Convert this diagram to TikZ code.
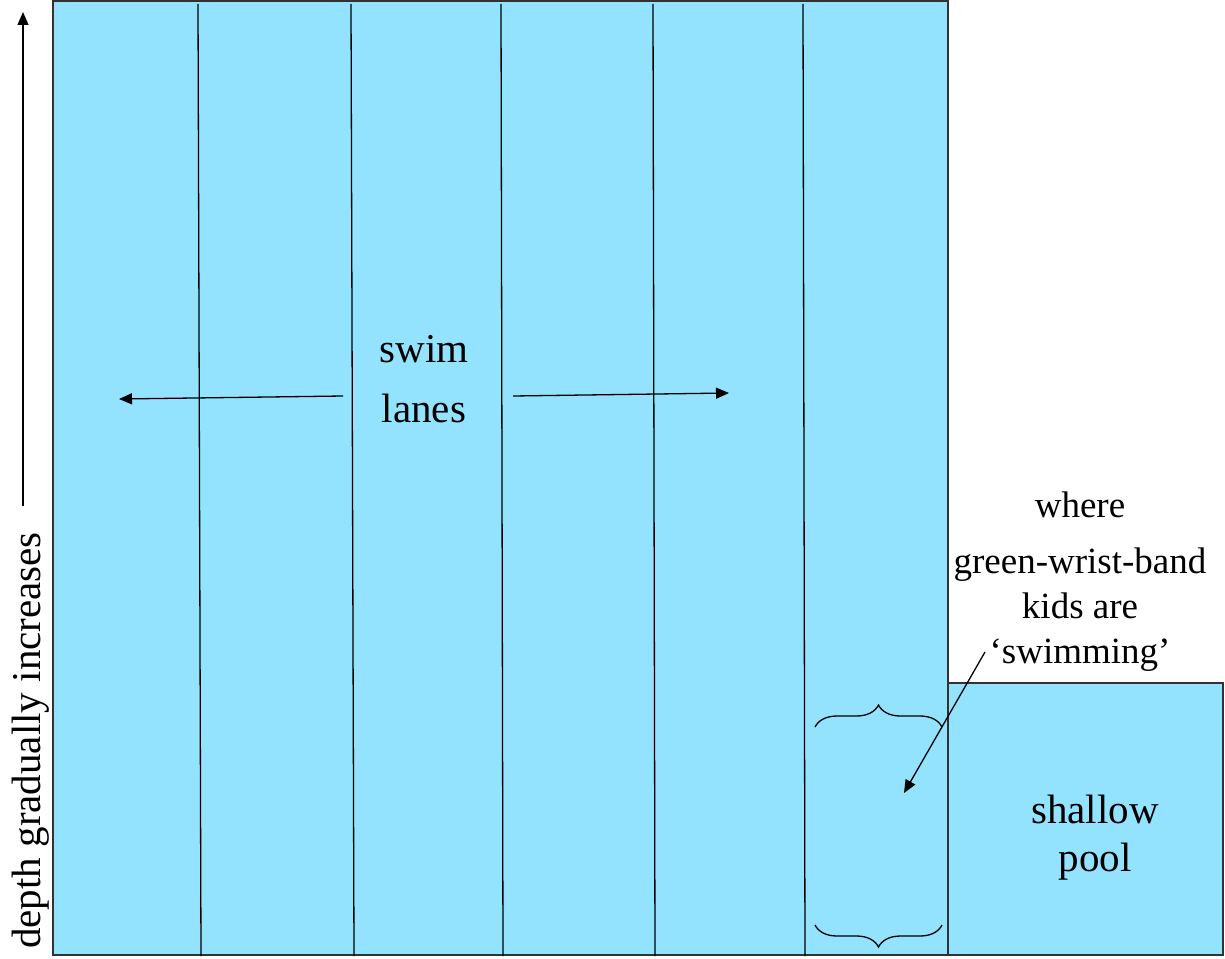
\documentclass[tikz,border=0pt]{standalone}
\usepackage{fontspec}
\setmainfont{Liberation Serif}
\usetikzlibrary{arrows.meta,decorations.pathreplacing}
\definecolor{poolblue}{RGB}{148,227,254}
\definecolor{rimgray}{RGB}{50,50,50}
\tikzset{
  pool/.style={draw=rimgray, line width=2pt, fill=poolblue},
  lane/.style={draw=black, line width=1.3pt},
  pointer/.style={-{Triangle[length=13pt,width=11pt]}, line width=1.3pt},
  bracket/.style={decorate, decoration={brace, amplitude=22pt}, line width=1.3pt},
  note/.style={inner sep=0pt, align=center}
}
\begin{document}
\begin{tikzpicture}[x=1pt,y=-1pt]
  \useasboundingbox (0,0) rectangle (1225,958);
  % pools
  \draw[pool] (53,1) rectangle (948,955);
  \draw[pool] (948,683) rectangle (1223,955);
  % lane lines
  \foreach \xt/\xb in {198/201, 351/354, 501/503, 653/655, 803/805}
    \draw[lane] (\xt,4) -- (\xb,956);
  % labels (base = last line)
  \node[note, font=\fontsize{41}{60}\selectfont, anchor=base] (lanes) at (424,422) {swim\\lanes};
  \node[note, font=\fontsize{37}{45}\selectfont, anchor=base] (where) at (1080,663)
    {where\\[11pt]green-wrist-band\\kids are\\‘swimming’};
  \node[note, font=\fontsize{41}{48}\selectfont, anchor=base] (shallow) at (1095,871) {shallow\\pool};
  \node[note, font=\fontsize{41}{49}\selectfont, rotate=90, anchor=base west] (depth) at (40,949)
    {depth gradually increases};
  % arrows
  \coordinate (lefttail) at (343,396);
  \coordinate (lefthead) at (119,399);
  \coordinate (righttail) at (513,396);
  \coordinate (righthead) at (729,393);
  \coordinate (depthtail) at (23,506);
  \coordinate (depthhead) at (23,12);
  \coordinate (wheretail) at (985,652);
  \coordinate (wherehead) at (904,793);
  \draw[pointer] (lefttail) -- (lefthead);
  \draw[pointer] (righttail) -- (righthead);
  \draw[pointer] (depthtail) -- (depthhead);
  \draw[pointer] (wheretail) -- (wherehead);
  % braces
  \draw[bracket] (815,727) -- (942,727);
  \draw[bracket] (942,925) -- (815,925);
\end{tikzpicture}
\end{document}
